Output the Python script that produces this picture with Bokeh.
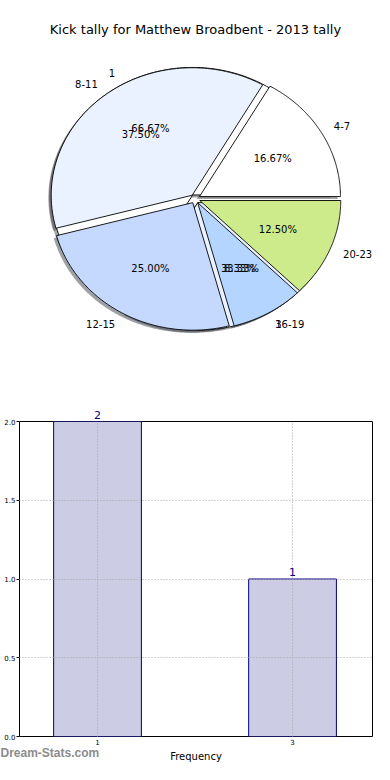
import numpy as np
from bokeh.plotting import figure
from bokeh.models import ColumnDataSource, Range1d, Label, FixedTicker, PrintfTickFormatter
from bokeh.layouts import column
from bokeh.embed import file_html
from bokeh.resources import INLINE
from bokeh.core.properties import value

# ---------------- data ----------------
chart_title = "Kick tally for Matthew Broadbent - 2013 tally"
kick_ranges = ["4-7", "8-11", "12-15", "16-19", "20-23"]
kick_counts = [4, 9, 6, 2, 3]
kick_colors = ["#FFFFFF", "#EBF2FF", "#C5D9FF", "#B3D5FF", "#CDEB8B"]

freq_values = ["1", "3"]
freq_counts = [2, 1]
freq_colors = ["#FFFFFF", "#EBF2FF"]

bar_yticks = [0.0, 0.5, 1.0, 1.5, 2.0]
bar_xlabel = "Frequency"
watermark = "Dream-Stats.com"

# ---------------- style ----------------
FONT = "DejaVu Sans"
EXPLODE = 0.035
SHADOW_OFF = 0.02
LABEL_DIST = 1.1
PCT_DIST = 0.6
RX, RY = 141.0, 127.5          # px per unit radius (elliptical pie)
W = 374
H_PIE = 380
H_BAR = 764 - H_PIE
BL, BR = 19, 2                 # left / right borders (frames are aligned in the column)
FW = W - BL - BR
PCX, PCY = 194.7 - BL, 198.3   # pie centre: from frame left / from top
BAR_TOP, BAR_BOT = 41, 24
FH = H_BAR - BAR_TOP - BAR_BOT
X0, X1 = -0.4, 1.41
Y0, Y1 = 0.0, 2.0


def darker(hexcol, f=0.3):
    h = hexcol.lstrip("#")
    r, g, b = (int(h[i:i + 2], 16) for i in (0, 2, 4))
    return "#%02x%02x%02x" % (int(r * f), int(g * f), int(b * f))


def pie_parts(labels, counts, colors):
    total = float(sum(counts))
    fr = np.array(counts, dtype=float) / total
    ends = np.cumsum(fr) * 2 * np.pi
    starts = ends - fr * 2 * np.pi
    xs, ys, sxs, sys_, cols, scols = [], [], [], [], [], []
    lx, ly, lal, px, py, ptxt = [], [], [], [], [], []
    for lab, f, s, e, c in zip(labels, fr, starts, ends, colors):
        mid = (s + e) / 2
        cx = EXPLODE * np.cos(mid)
        cy = EXPLODE * np.sin(mid)
        th = np.linspace(s, e, 120)
        x = np.concatenate([[cx], cx + np.cos(th)])
        y = np.concatenate([[cy], cy + np.sin(th)])
        xs.append(list(x)); ys.append(list(y))
        sxs.append(list(x - SHADOW_OFF)); sys_.append(list(y - SHADOW_OFF))
        cols.append(c); scols.append(darker(c))
        xt = cx + LABEL_DIST * np.cos(mid)
        yt = cy + LABEL_DIST * np.sin(mid)
        lx.append(xt); ly.append(yt); lal.append("left" if xt > 0 else "right")
        px.append(cx + PCT_DIST * np.cos(mid)); py.append(cy + PCT_DIST * np.sin(mid))
        ptxt.append("%.2f%%" % (f * 100))
    wedges = ColumnDataSource(dict(xs=xs, ys=ys, color=cols))
    shadows = ColumnDataSource(dict(xs=sxs, ys=sys_, color=scols))
    labs = ColumnDataSource(dict(x=lx, y=ly, text=list(labels), align=lal))
    pcts = ColumnDataSource(dict(x=px, y=py, text=ptxt))
    return wedges, shadows, labs, pcts


# ---------------- pie figure ----------------
pie = figure(width=W, height=H_PIE, output_backend="svg", toolbar_location=None,
             title=None,
             x_range=Range1d(-PCX / RX, (FW - PCX) / RX),
             y_range=Range1d(-(H_PIE - PCY) / RY, PCY / RY),
             min_border_left=BL, min_border_right=BR, min_border_top=0, min_border_bottom=0)
pie.axis.visible = False
pie.grid.visible = False
pie.outline_line_color = None

fw, fs, fl, fp = pie_parts(freq_values, freq_counts, freq_colors)
kw, ks, kl, kp = pie_parts(kick_ranges, kick_counts, kick_colors)

for src in (fs, ks):
    pie.patches("xs", "ys", source=src, fill_color="color", fill_alpha=0.5, line_color=None)
for src in (fw, kw):
    pie.patches("xs", "ys", source=src, fill_color="color", line_color="black", line_width=0.9)

for src in (fl, kl):
    pie.text("x", "y", text="text", source=src, text_align="align", text_baseline="middle",
             text_font=value(FONT), text_font_size="10px", text_color="black")
for src in (fp, kp):
    pie.text("x", "y", text="text", source=src, text_align="center", text_baseline="middle",
             text_font=value(FONT), text_font_size="10px", text_color="black")

pie.add_layout(Label(x=195 - BL, y=H_PIE - 29.3, x_units="screen", y_units="screen",
                     text=chart_title, text_align="center", text_baseline="middle",
                     text_font=FONT, text_font_size="13px", text_color="black"))

# ---------------- bar figure ----------------
bx = list(range(len(freq_values)))
bsrc = ColumnDataSource(dict(x=bx, top=freq_counts))

bar = figure(width=W, height=H_BAR, output_backend="svg", toolbar_location=None,
             title=None,
             x_range=Range1d(X0, X1), y_range=Range1d(Y0, Y1),
             min_border_top=BAR_TOP, min_border_bottom=BAR_BOT,
             min_border_left=BL, min_border_right=BR)
bar.vbar(x="x", top="top", width=0.45, source=bsrc, fill_color="#CCCCE5",
         line_color="#000080", line_width=1)

# value labels (a label at the top edge goes in the side panel so it is not clipped)
for xi, c in zip(bx, freq_counts):
    lab = Label(x=xi, y=c, y_offset=3, text=str(c),
                text_align="center", text_baseline="bottom",
                text_font=FONT, text_font_size="11px", text_color="#000080")
    bar.add_layout(lab, "above" if c >= Y1 else "center")

bar.xaxis.ticker = FixedTicker(ticks=bx)
bar.xaxis.major_label_overrides = {i: v for i, v in zip(bx, freq_values)}
bar.yaxis.ticker = FixedTicker(ticks=bar_yticks)
bar.yaxis.formatter = PrintfTickFormatter(format="%.1f")
for ax in (bar.xaxis, bar.yaxis):
    ax.major_label_text_font = FONT
    ax.major_label_text_font_size = "7px"
    ax.major_label_text_color = "black"
    ax.major_tick_in = 0
    ax.major_tick_line_color = "black"
    ax.minor_tick_line_color = None
    ax.axis_line_color = None
bar.yaxis.major_tick_out = 3
bar.xaxis.major_tick_out = 0
bar.yaxis.major_label_standoff = 1
bar.xaxis.major_label_standoff = 2
bar.xaxis.axis_label = bar_xlabel
bar.xaxis.axis_label_text_font = FONT
bar.xaxis.axis_label_text_font_size = "10px"
bar.xaxis.axis_label_text_font_style = "normal"
bar.xaxis.axis_label_text_color = "black"
bar.xaxis.axis_label_standoff = 3

bar.grid.grid_line_color = "#a8a8a8"
bar.grid.grid_line_dash = "1 2"
bar.grid.grid_line_width = 1
bar.grid.level = "annotation"
bar.outline_line_color = "black"
bar.outline_line_width = 1

# watermark, bottom-left of the page (data position computed from the frame geometry)
wm_x = X0 - BL * (X1 - X0) / FW
wm_y = Y0 - 17 * (Y1 - Y0) / FH
bar.add_layout(Label(x=wm_x, y=wm_y, text=watermark,
                     text_align="left", text_baseline="middle",
                     text_font="Liberation Sans", text_font_size="12px",
                     text_font_style="bold", text_color="#8c8c8c"), "above")

layout = column(pie, bar, spacing=0)
open("out.html", "w").write(file_html(layout, INLINE))
